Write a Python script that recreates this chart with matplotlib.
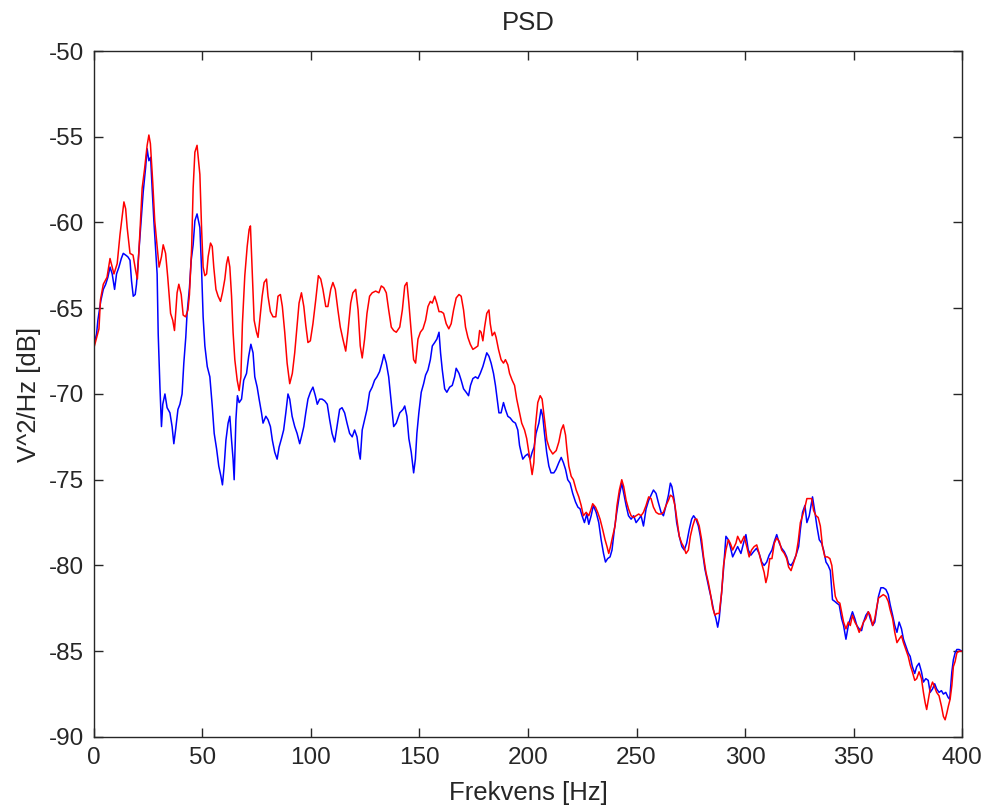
import matplotlib
matplotlib.use("Agg")
import matplotlib.pyplot as plt

# PSD of the two channels, read as (frequency [Hz], level [dB]) pairs
freq_blue = [
    0, 1.2, 1.8, 3.1, 4.3, 5.4, 6.4, 7.4, 8.4, 9.5, 10.4, 11.5, 12.6, 13.5,
    14.6, 15.6, 16.6, 17.3, 18.1, 19.0, 19.6, 20.4, 21.5, 22.7, 23.8, 24.5,
    25.3, 26.1, 26.8, 27.6, 28.4, 29.1, 29.6, 30.4, 31.1, 31.7, 32.7, 33.7,
    35.0, 36.0, 36.8, 37.6, 38.7, 39.6, 40.6, 41.4, 42.3, 42.9, 44.0, 44.8,
    45.7, 46.5, 47.5, 48.8, 49.6, 50.3, 51.1, 52.2, 53.4, 54.5, 55.4, 56.5,
    57.5, 58.5, 59.2, 60.0, 60.8, 61.8, 62.6, 63.4, 64.1, 64.6, 65.4, 66.1,
    66.9, 68.0, 69.0, 70.3, 71.3, 72.3, 73.3, 74.1, 75.2, 76.1, 77.2, 77.9,
    79.2, 80.2, 81.3, 82.2, 83.3, 84.4, 85.3, 86.4, 87.4, 88.4, 89.4, 90.2,
    91.3, 92.5, 93.6, 94.8, 95.6, 96.7, 97.6, 98.6, 99.7, 100.9, 102.0,
    102.9, 104.0, 105.1, 106.3, 107.5, 108.6, 109.7, 110.9, 112.0, 113.2,
    114.3, 115.5, 116.6, 117.8, 119.0, 120.1, 121.2, 122.1, 122.7, 123.6,
    124.7, 125.8, 127.0, 128.2, 129.3, 130.4, 131.6, 132.7, 133.6, 134.7,
    135.8, 137.0, 138.1, 139.3, 140.9, 142.4, 143.2, 144.2, 145.1, 146.2,
    147.3, 148.1, 148.8, 149.7, 150.8, 151.9, 152.8, 153.9, 155.0, 155.9,
    157.0, 158.0, 159.0, 159.7, 160.5, 161.6, 162.6, 163.9, 165.1, 166.2,
    166.9, 168.2, 169.2, 170.3, 171.5, 172.6, 173.5, 174.6, 175.8, 176.9,
    178.0, 179.2, 180.1, 181.0, 182.0, 183.0, 184.1, 185.0, 185.8, 186.6,
    187.6, 188.7, 189.6, 190.7, 191.8, 193.0, 194.2, 195.3, 196.1, 196.8,
    197.6, 198.8, 199.9, 201.0, 201.9, 202.8, 203.7, 205.0, 206.0, 206.8,
    207.6, 208.6, 209.6, 210.6, 211.9, 212.9, 214.2, 215.3, 216.3, 217.3,
    218.3, 219.4, 220.6, 221.9, 223.0, 224.0, 224.9, 226.0, 227.1, 228.0,
    229.1, 230.1, 231.4, 232.6, 233.7, 234.8, 235.7, 236.7, 237.8, 238.7,
    239.8, 240.9, 242.1, 243.2, 244.1, 245.2, 246.3, 247.5, 248.7, 249.8,
    251.0, 252.1, 253.2, 254.4, 255.6, 256.7, 257.8, 259.0, 260.0, 261.3,
    262.4, 263.6, 264.7, 265.6, 266.3, 267.4, 268.5, 269.7, 270.9, 272.0,
    273.1, 274.3, 275.4, 276.3, 277.4, 278.5, 279.4, 280.5, 281.5, 282.5,
    283.5, 284.6, 285.5, 286.6, 287.4, 288.1, 289.2, 290.1, 291.2, 292.3,
    293.2, 294.3, 295.8, 296.6, 298.1, 299.3, 300.4, 301.5, 302.7, 303.9,
    305.3, 306.5, 307.7, 308.8, 310.0, 311.1, 312.4, 313.5, 314.6, 315.8,
    316.9, 318.1, 319.2, 320.1, 321.2, 322.2, 323.5, 324.7, 325.5, 326.5,
    327.6, 328.5, 329.6, 330.4, 331.1, 332.2, 333.1, 334.2, 335.3, 336.2,
    337.3, 338.3, 339.3, 340.3, 341.4, 342.3, 343.4, 344.5, 345.4, 346.5,
    347.6, 348.5, 349.5, 350.6, 351.5, 352.6, 353.7, 354.6, 355.7, 356.8,
    357.7, 358.8, 359.8, 360.6, 361.5, 362.6, 363.7, 364.9, 366.0, 366.9,
    368.0, 369.0, 370.0, 371.0, 372.1, 373.0, 374.1, 375.2, 376.1, 377.1,
    378.2, 379.1, 380.2, 381.3, 382.2, 383.3, 384.4, 385.3, 386.4, 387.4,
    388.3, 389.4, 390.5, 391.4, 392.5, 393.6, 394.3, 395.3, 396.0, 396.8,
    397.6, 398.6, 400.0,
]
psd_blue = [
    -67.1, -66.5, -65.7, -64.6, -63.9, -63.6, -63.2, -62.6, -63.0, -63.9,
    -63.0, -62.6, -62.1, -61.8, -61.9, -62.0, -62.2, -63.4, -64.3, -64.2,
    -63.6, -62.2, -60.3, -58.2, -56.8, -55.7, -56.4, -56.2, -58.0, -59.9,
    -61.5, -63.0, -66.5, -69.6, -71.9, -70.6, -70.0, -70.8, -71.1, -71.9,
    -72.9, -72.1, -70.9, -70.6, -70.0, -68.2, -66.7, -65.3, -63.8, -62.2,
    -61.3, -59.9, -59.5, -60.3, -62.8, -65.5, -67.2, -68.4, -69.0, -70.7,
    -72.3, -73.2, -74.2, -74.8, -75.3, -74.2, -72.7, -71.7, -71.3, -72.7,
    -73.8, -75.0, -71.5, -70.1, -70.5, -70.3, -69.2, -68.8, -67.8, -67.1,
    -67.6, -69.0, -69.6, -70.3, -71.1, -71.7, -71.3, -71.5, -71.9, -72.7,
    -73.4, -73.8, -73.1, -72.6, -72.1, -71.1, -70.0, -70.3, -71.3, -71.9,
    -72.3, -72.9, -72.5, -71.9, -71.1, -70.3, -69.9, -69.6, -70.1, -70.6,
    -70.3, -70.3, -70.4, -70.6, -71.5, -72.3, -72.8, -71.9, -70.9, -70.8,
    -71.1, -71.7, -72.3, -72.5, -72.1, -72.5, -73.4, -73.8, -72.1, -71.5,
    -70.9, -69.9, -69.6, -69.2, -69.0, -68.7, -68.2, -67.7, -68.2, -69.0,
    -70.5, -71.9, -71.7, -71.1, -70.9, -70.7, -71.3, -72.6, -73.4, -74.6,
    -73.8, -72.3, -71.1, -69.9, -69.4, -68.9, -68.6, -68.0, -67.2, -67.0,
    -66.8, -66.4, -67.6, -68.6, -69.7, -69.9, -69.6, -69.5, -69.0, -68.5,
    -68.8, -69.2, -69.7, -69.9, -70.1, -69.5, -69.1, -69.0, -69.1, -68.8,
    -68.4, -68.0, -67.6, -67.8, -68.2, -68.8, -69.5, -70.3, -71.1, -71.1,
    -70.5, -70.9, -71.3, -71.4, -71.6, -71.7, -72.1, -73.0, -73.4, -73.8,
    -73.6, -73.5, -73.8, -73.4, -73.1, -72.3, -71.7, -70.9, -71.3, -72.3,
    -73.4, -74.2, -74.6, -74.6, -74.4, -74.0, -73.7, -74.0, -74.4, -75.0,
    -75.2, -75.8, -76.3, -76.6, -76.7, -77.1, -77.5, -77.0, -77.6, -77.1,
    -76.5, -76.9, -77.5, -78.5, -79.3, -79.8, -79.6, -79.5, -79.1, -77.9,
    -76.9, -75.9, -75.2, -75.8, -76.5, -77.1, -77.3, -77.1, -77.5, -77.3,
    -77.1, -77.7, -76.7, -76.2, -75.9, -75.6, -75.8, -76.3, -76.9, -77.1,
    -76.5, -75.9, -75.2, -75.4, -76.2, -77.5, -78.3, -78.9, -79.1, -78.7,
    -77.9, -77.3, -77.1, -77.3, -77.7, -78.3, -79.3, -80.2, -80.8, -81.4,
    -82.0, -82.6, -83.1, -83.6, -83.1, -81.6, -80.2, -78.3, -78.5, -78.9,
    -79.5, -79.1, -78.9, -79.3, -78.7, -78.2, -79.1, -79.4, -79.2, -79.0,
    -79.3, -79.8, -80.0, -79.8, -79.4, -79.1, -78.6, -78.2, -78.7, -79.0,
    -79.2, -79.5, -79.9, -80.0, -79.8, -79.4, -78.9, -77.9, -76.9, -76.5,
    -77.5, -77.1, -76.5, -76.0, -76.9, -77.7, -78.5, -78.7, -79.1, -79.8,
    -80.0, -80.3, -82.0, -82.1, -82.2, -82.3, -83.1, -83.5, -84.3, -83.5,
    -83.1, -82.7, -83.1, -83.5, -83.7, -83.8, -83.3, -82.9, -82.7, -83.1,
    -83.5, -83.3, -82.6, -81.8, -81.3, -81.3, -81.4, -81.7, -82.3, -82.9,
    -83.5, -83.9, -83.3, -83.7, -84.3, -84.7, -85.1, -85.3, -85.9, -86.3,
    -85.9, -85.7, -86.2, -86.8, -86.6, -86.7, -87.4, -87.2, -86.9, -87.2,
    -87.4, -87.3, -87.5, -87.4, -87.7, -87.8, -86.2, -85.5, -85.1, -84.9,
    -84.9, -85.0,
]

freq_red = [
    0, 2.3, 3.0, 4.3, 6.0, 7.4, 8.4, 9.2, 10.7, 12.0, 13.8, 14.6, 15.3,
    16.6, 18.0, 19.2, 20.0, 21.2, 22.2, 23.3, 24.5, 25.3, 26.0, 27.1, 28.0,
    29.1, 30.0, 31.1, 31.9, 33.0, 34.0, 35.3, 36.3, 37.1, 38.3, 39.1, 40.2,
    41.1, 42.2, 43.3, 44.0, 45.0, 45.7, 46.5, 47.5, 48.8, 49.6, 50.3, 51.1,
    51.9, 52.6, 53.7, 54.5, 55.2, 56.2, 57.2, 58.3, 59.2, 60.3, 61.1, 61.8,
    62.6, 63.4, 64.1, 64.9, 66.0, 66.9, 67.7, 68.4, 69.5, 70.6, 71.5, 72.1,
    72.9, 73.8, 74.9, 75.6, 76.4, 77.5, 78.4, 79.5, 80.2, 81.3, 82.5, 83.8,
    84.8, 85.9, 86.8, 87.9, 89.0, 90.2, 91.4, 92.5, 93.6, 94.5, 95.6, 96.7,
    97.6, 98.6, 99.7, 100.9, 102.2, 103.4, 104.5, 105.5, 106.8, 107.8,
    109.1, 110.1, 111.2, 112.4, 113.5, 114.7, 116.0, 117.0, 118.3, 119.3,
    120.6, 121.7, 122.7, 123.6, 124.7, 125.8, 127.0, 128.2, 129.8, 131.3,
    132.4, 133.5, 134.7, 135.8, 137.0, 138.1, 139.3, 140.9, 142.1, 143.2,
    144.2, 145.1, 146.2, 147.3, 148.2, 149.3, 150.4, 151.6, 152.8, 153.9,
    155.0, 155.9, 157.0, 158.0, 159.0, 160.0, 161.1, 162.3, 163.5, 164.6,
    165.7, 166.9, 168.2, 169.2, 170.3, 171.2, 172.3, 173.4, 174.6, 175.8,
    176.9, 177.7, 178.4, 179.2, 180.0, 181.0, 182.0, 182.6, 183.5, 184.6,
    185.3, 186.4, 187.6, 188.7, 189.6, 190.7, 191.5, 192.7, 193.8, 194.8,
    196.1, 197.1, 198.4, 199.4, 200.4, 201.1, 201.9, 202.7, 203.4, 204.5,
    205.6, 206.5, 207.6, 208.7, 209.9, 211.4, 213.0, 214.2, 215.3, 216.3,
    217.3, 217.9, 218.8, 219.9, 220.9, 222.2, 223.4, 224.5, 225.5, 226.8,
    228.0, 229.1, 229.8, 231.1, 232.1, 233.2, 234.4, 235.5, 236.4, 237.2,
    238.0, 239.0, 240.1, 241.0, 242.1, 243.2, 244.1, 245.2, 246.3, 247.5,
    248.7, 249.8, 251.0, 252.1, 253.2, 254.4, 255.6, 256.7, 257.8, 259.0,
    260.2, 261.3, 262.4, 263.6, 264.7, 265.6, 266.7, 267.7, 268.6, 269.7,
    270.8, 271.7, 272.8, 273.9, 274.8, 275.9, 276.9, 277.8, 278.9, 280.0,
    280.9, 282.0, 283.1, 284.0, 285.0, 286.1, 287.0, 288.1, 289.2, 290.1,
    291.2, 292.3, 293.2, 294.3, 295.8, 296.6, 298.1, 299.6, 300.8, 301.9,
    303.0, 304.2, 305.4, 306.5, 307.7, 308.8, 309.6, 310.4, 311.4, 312.4,
    313.5, 314.6, 315.8, 316.9, 318.1, 319.2, 320.1, 321.2, 322.2, 323.5,
    324.5, 325.5, 326.5, 327.6, 328.5, 329.6, 330.7, 331.6, 332.7, 333.7,
    334.7, 335.7, 336.8, 338.0, 339.1, 340.0, 340.8, 341.6, 342.6, 343.7,
    344.6, 345.4, 346.5, 347.6, 348.5, 349.5, 350.6, 351.5, 352.6, 353.7,
    354.6, 355.7, 356.8, 357.7, 358.8, 359.8, 360.6, 361.5, 362.6, 363.7,
    364.9, 366.0, 366.9, 368.0, 369.0, 370.0, 371.0, 372.1, 373.0, 374.1,
    375.2, 376.1, 377.1, 378.2, 379.1, 380.2, 381.3, 382.2, 383.0, 383.7,
    384.5, 385.3, 386.4, 387.4, 388.3, 389.4, 390.5, 391.4, 392.2, 393.0,
    393.7, 394.5, 395.3, 396.0, 396.8, 397.6, 398.6, 400.0,
]
psd_red = [
    -67.3, -66.2, -64.5, -63.6, -63.2, -62.1, -62.6, -63.0, -62.4, -60.7,
    -58.8, -59.2, -60.3, -61.8, -61.9, -62.8, -63.3, -60.5, -58.0, -56.9,
    -55.5, -54.9, -55.4, -57.7, -59.9, -61.4, -62.6, -62.0, -61.3, -61.8,
    -63.2, -65.3, -65.7, -66.3, -64.1, -63.6, -64.2, -65.4, -65.5, -65.1,
    -64.2, -61.5, -58.0, -55.9, -55.5, -57.2, -60.4, -62.6, -63.1, -63.0,
    -62.0, -61.2, -61.4, -62.6, -63.9, -64.3, -64.6, -64.1, -63.3, -62.4,
    -62.0, -62.6, -64.3, -66.4, -68.0, -69.2, -69.8, -69.0, -65.9, -63.1,
    -61.4, -60.4, -60.2, -62.8, -65.7, -66.4, -66.7, -65.7, -64.3, -63.5,
    -63.3, -64.3, -65.2, -65.5, -65.5, -64.3, -64.2, -64.9, -66.4, -68.2,
    -69.4, -68.8, -67.6, -66.0, -64.7, -64.1, -64.9, -66.0, -67.0, -66.9,
    -65.9, -64.5, -63.1, -63.3, -63.9, -64.9, -64.9, -63.9, -63.5, -63.9,
    -65.1, -66.1, -66.8, -67.5, -66.4, -64.7, -64.1, -63.9, -65.1, -67.2,
    -67.9, -66.8, -65.3, -64.3, -64.1, -64.0, -64.1, -63.7, -63.8, -64.1,
    -65.1, -66.1, -66.3, -66.4, -66.1, -65.1, -63.7, -63.5, -64.7, -66.4,
    -68.0, -68.2, -66.8, -66.4, -66.2, -65.7, -64.9, -64.6, -64.7, -64.3,
    -64.7, -65.2, -65.2, -65.3, -65.9, -66.2, -65.9, -65.1, -64.4, -64.2,
    -64.3, -65.1, -66.1, -66.7, -67.1, -67.4, -67.3, -67.2, -66.3, -66.4,
    -66.9, -66.1, -65.3, -65.1, -65.9, -66.6, -66.4, -66.7, -67.4, -68.0,
    -68.2, -68.0, -68.3, -68.8, -69.2, -69.5, -70.3, -71.1, -71.7, -72.1,
    -72.6, -73.4, -74.0, -74.7, -74.0, -71.9, -70.5, -70.1, -70.3, -71.5,
    -72.7, -73.2, -73.5, -73.3, -72.8, -72.1, -71.8, -72.4, -73.2, -74.2,
    -74.8, -75.0, -75.6, -76.0, -76.5, -77.1, -76.9, -77.1, -76.7, -76.4,
    -76.6, -76.9, -77.3, -77.9, -78.5, -78.9, -79.3, -78.9, -78.3, -77.7,
    -76.5, -75.6, -75.0, -75.4, -76.2, -76.7, -77.1, -77.2, -77.1, -77.0,
    -77.1, -76.9, -76.5, -76.0, -76.1, -76.6, -76.9, -77.0, -77.0, -76.9,
    -76.5, -76.2, -75.9, -76.0, -76.5, -77.3, -78.3, -78.7, -78.9, -79.3,
    -79.1, -78.3, -77.7, -77.3, -77.3, -77.7, -78.5, -79.5, -80.4, -81.0,
    -81.6, -82.4, -82.9, -82.8, -82.8, -81.6, -80.0, -79.1, -78.5, -78.7,
    -79.1, -78.7, -78.3, -78.7, -78.3, -78.9, -79.5, -79.1, -78.9,
    -78.8, -79.3, -79.9, -80.4, -81.0, -80.6, -79.6, -79.6, -78.7, -78.4,
    -78.6, -79.1, -79.3, -79.6, -80.1, -80.3, -79.9, -79.4, -78.6, -77.5,
    -77.1, -76.6, -76.1, -76.1, -76.1, -76.8, -77.1, -77.2, -77.7, -78.9,
    -79.5, -79.5, -79.6, -80.0, -81.0, -81.8, -82.1, -82.2, -82.8, -83.3,
    -83.7, -83.3, -83.5, -82.9, -83.3, -83.5, -83.9, -83.6, -83.3, -83.1,
    -82.7, -82.9, -83.5, -83.1, -82.5, -81.9, -81.8, -81.7, -81.8, -82.1,
    -82.6, -83.1, -83.9, -84.5, -84.3, -84.1, -84.5, -84.9, -85.3, -85.8,
    -86.2, -86.7, -86.6, -86.2, -86.6, -87.4, -88.0, -88.4, -87.8, -87.2,
    -86.8, -87.1, -87.4, -87.6, -88.2, -88.8, -89.0, -88.6, -88.2, -87.8,
    -87.0, -85.9, -85.6, -85.1, -85.0, -85.0,
]

x_ticks = list(range(0, 401, 50))
y_ticks = list(range(-90, -49, 5))

plt.rcParams["font.family"] = ["Liberation Sans", "DejaVu Sans"]
plt.rcParams["axes.unicode_minus"] = False
text_color = "#262626"

fig = plt.figure(figsize=(9.85, 8.07), dpi=100)
ax = fig.add_axes([0.0954, 0.0868, 0.8813, 0.8500])

ax.plot(freq_blue, psd_blue, color="#0000ff", linewidth=1.1)
ax.plot(freq_red, psd_red, color="#ff0000", linewidth=1.1)

ax.set_xlim(0, 400)
ax.set_ylim(-90, -50)
ax.set_xticks(x_ticks)
ax.set_yticks(y_ticks)

ax.tick_params(direction="in", length=6.5, width=1.0, top=True, right=True,
               labelsize=17.5, colors=text_color, pad=7)
for spine in ax.spines.values():
    spine.set_linewidth(1.0)
    spine.set_color(text_color)

ax.set_title("PSD", fontsize=18.5, color=text_color, pad=15)
ax.set_xlabel("Frekvens [Hz]", fontsize=18.5, color=text_color, labelpad=9)
ax.set_ylabel("V^2/Hz [dB]", fontsize=18.5, color=text_color, labelpad=6)

fig.savefig("out.png", dpi=100)
